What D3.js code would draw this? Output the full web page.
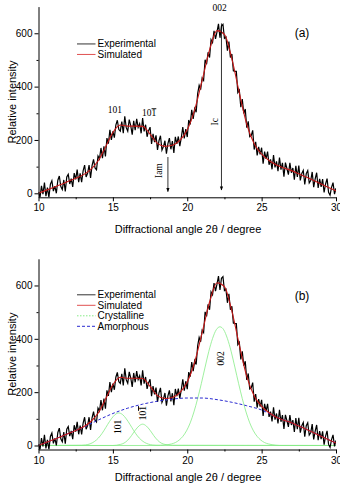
<!DOCTYPE html>
<html>
<head>
<meta charset="utf-8">
<script src="https://cdn.jsdelivr.net/npm/d3@7"></script>
<style>
  body { margin: 0; background: #fff; }
  svg { display: block; font-family: "Liberation Sans", Arial, sans-serif; }
  .axis path, .axis line { stroke: #000; stroke-width: 1; }
  .axis text { font-size: 10px; fill: #000; font-family: "Liberation Sans", Arial, sans-serif; }
  .hkl { font-family: "Liberation Serif", "Times New Roman", serif; font-size: 9.5px; fill: #000; }
</style>
</head>
<body>
<div id="chart"></div>
<script>
// measured pattern, 10..30 degree every 0.1 degree
const expStart = 10, expStep = 0.1;
const experimental = [
  5, -16, 28, -3, 40, -11, 21, -15, 34, 47,
  8, 27, 0, 49, 65, 25, 14, 50, 7, 61,
  71, 35, 55, 24, 76, 52, 89, 42, 75, 42,
  84, 106, 61, 75, 106, 58, 104, 127, 95, 88,
  140, 129, 170, 132, 176, 138, 207, 186, 238, 200,
  232, 209, 256, 274, 239, 233, 269, 225, 289, 246,
  233, 276, 254, 220, 272, 237, 279, 247, 261, 225,
  282, 232, 257, 212, 235, 248, 185, 223, 192, 217,
  163, 197, 216, 162, 175, 197, 149, 186, 207, 165,
  196, 151, 212, 185, 213, 177, 209, 248, 206, 241,
  211, 275, 258, 313, 279, 318, 304, 374, 405, 389,
  432, 423, 501, 484, 529, 509, 576, 565, 609, 579,
  605, 635, 583, 627, 633, 581, 586, 535, 569, 509,
  522, 459, 457, 457, 378, 387, 323, 353, 299, 316,
  246, 270, 212, 216, 236, 164, 193, 142, 174, 146,
  171, 111, 156, 129, 156, 107, 127, 90, 143, 97,
  120, 83, 134, 89, 114, 62, 115, 93, 70, 114,
  77, 95, 51, 103, 61, 104, 48, 74, 86, 33,
  74, 85, 39, 48, 80, 23, 54, 77, 20, 54,
  24, 53, 3, 35, 55, 4, -7, 22, 40, -3,
  19
];

// fitted curve, every 0.5 degree
const simAngles = [10, 10.5, 11, 11.5, 12, 12.5, 13, 13.5, 14, 14.5, 15, 15.5, 16, 16.5, 17, 17.5,
  18, 18.5, 19, 19.5, 20, 20.5, 21, 21.5, 22, 22.5, 23, 23.5, 24, 24.5, 25, 25.5, 26, 26.5, 27,
  27.5, 28, 28.5, 29, 29.5, 30];
const simulated = [0, 11, 22, 33, 45, 56, 69, 89, 121, 173, 228, 256, 252, 252, 251, 222,
  187, 176, 180, 198, 238, 313, 423, 538, 610, 596, 504, 377, 259, 186, 147, 123, 106, 95, 85,
  73, 61, 48, 35, 22, 9];

// amorphous halo
const amorphousAngles = [10, 11, 12, 13, 14, 15, 16, 17, 18, 19, 20, 21, 22, 23, 24, 25, 26, 27, 28, 29, 30];
const amorphous = [0, 22, 45, 68, 95, 120, 140, 155, 166, 174, 178, 178, 172, 162, 149, 133, 106, 85, 61, 35, 9];

// crystalline peaks
const peak101Angles = [10, 12.9, 13.15, 13.4, 13.65, 13.9, 14.15, 14.4, 14.65, 14.9, 15.15, 15.4,
  15.65, 15.9, 16.15, 16.4, 16.65, 16.9, 17.15, 17.4, 17.65, 17.9, 30];
const peak101 = [0, 1, 2, 5, 11, 21, 36, 56, 79, 100, 116, 122, 116, 100, 79, 56, 36, 21, 11, 5, 2, 1, 0];
const peak10m1Angles = [10, 15, 15.25, 15.5, 15.75, 16, 16.25, 16.5, 16.75, 17, 17.25, 17.5, 17.75,
  18, 18.25, 18.5, 18.75, 19, 30];
const peak10m1 = [0, 0, 1, 4, 9, 20, 37, 57, 73, 80, 73, 57, 37, 20, 9, 4, 1, 0, 0];
const peak002Angles = [10, 18.2, 18.45, 18.7, 18.95, 19.2, 19.45, 19.7, 19.95, 20.2, 20.45, 20.7,
  20.95, 21.2, 21.45, 21.7, 21.95, 22.2, 22.45, 22.7, 22.95, 23.2, 23.45, 23.7, 23.95, 24.2, 24.45,
  24.7, 24.95, 25.2, 25.45, 25.7, 25.95, 26.2, 30];
const peak002 = [0, 0, 1, 3, 6, 11, 20, 34, 55, 85, 126, 176, 233, 294, 353, 401, 434, 445, 434,
  401, 353, 294, 233, 176, 126, 85, 55, 34, 20, 11, 6, 3, 1, 0, 0];

// tick values
const xTicks = [10, 15, 20, 25, 30];
const xMinor = [12.5, 17.5, 22.5, 27.5];
const yTicks = [0, 200, 400, 600];
const yMinor = [100, 300, 500];

// annotations
const arrowNames = ["Iam", "Ic"];
const arrowAngles = [18.7, 22.3];
const arrowTop = [136, 637];
const arrowBottom = [6, 12];
const arrowLabelAt = [[18.07, 85], [21.85, 268]];

const labelsA = ["101", "10\u03041", "002"];
const labelsAAngle = [15.13, 17.44, 22.18];
const labelsAValue = [312, 300, 694];
const labelsBAngle = [15.36, 17.03, 22.3];
const labelsBValue = [70, 121, 327];

const svgWidth = 340, svgHeight = 485;
const svg = d3.select("#chart").append("svg")
  .attr("width", svgWidth)
  .attr("height", svgHeight);

const defs = svg.append("defs");
defs.append("marker")
  .attr("id", "arrow")
  .attr("viewBox", "0 0 10 10")
  .attr("refX", 9).attr("refY", 5)
  .attr("markerWidth", 5).attr("markerHeight", 5)
  .attr("orient", "auto")
  .append("path")
  .attr("d", "M0,1L10,5L0,9Z")
  .attr("fill", "#000");

const x = d3.scaleLinear().domain([10, 30]).range([38.5, 336]);
const expPoints = experimental.map((v, i) => [expStart + i * expStep, v]);

function hklText(g, txt, px, py, rotate) {
  const t = g.append("text")
    .attr("class", "hkl")
    .attr("text-anchor", "middle")
    .attr("dominant-baseline", "central")
    .attr("transform", `translate(${px},${py})` + (rotate ? " rotate(-90)" : ""));
  if (txt.indexOf("\u0304") > 0) {
    t.append("tspan").text("10");
    t.append("tspan").style("text-decoration", "overline").text("1");
  } else {
    t.text(txt);
  }
}

function drawPanel(id, bottom, top, opts) {
  const y = d3.scaleLinear().domain([-15, 700]).range([bottom, top]);
  const g = svg.append("g");

  g.append("clipPath").attr("id", "clip" + id)
    .append("rect")
    .attr("x", x(10)).attr("y", top)
    .attr("width", x(30) - x(10)).attr("height", bottom - top);

  const plot = g.append("g").attr("clip-path", `url(#clip${id})`);
  const line = d3.line().x(d => x(d[0])).y(d => y(d[1]));
  const smooth = d3.line().x(d => x(d[0])).y(d => y(d[1])).curve(d3.curveMonotoneX);

  if (opts.components) {
    [[peak101Angles, peak101], [peak10m1Angles, peak10m1], [peak002Angles, peak002]].forEach(p => {
      plot.append("path")
        .datum(p[0].map((a, i) => [a, p[1][i]]))
        .attr("fill", "none")
        .attr("stroke", "#86ec86")
        .attr("stroke-width", 0.8)
        .attr("d", smooth);
    });
  }

  plot.append("path")
    .datum(expPoints)
    .attr("fill", "none")
    .attr("stroke", "#000")
    .attr("stroke-width", 1.2)
    .attr("d", line);

  if (opts.components) {
    plot.append("path")
      .datum(amorphousAngles.map((a, i) => [a, amorphous[i]]))
      .attr("fill", "none")
      .attr("stroke", "#2b2bd0")
      .attr("stroke-width", 1)
      .attr("stroke-dasharray", "3,2")
      .attr("d", smooth);
  }

  plot.append("path")
    .datum(simAngles.map((a, i) => [a, simulated[i]]))
    .attr("fill", "none")
    .attr("stroke", "#c81818")
    .attr("stroke-width", 1.1)
    .attr("d", smooth);

  // axes
  g.append("g").attr("class", "axis")
    .attr("transform", `translate(0,${bottom})`)
    .call(d3.axisBottom(x).tickValues(xTicks).tickSize(4).tickSizeOuter(0).tickPadding(3));
  g.append("g").attr("class", "axis")
    .attr("transform", `translate(0,${bottom})`)
    .call(d3.axisBottom(x).tickValues(xMinor).tickSize(2).tickSizeOuter(0).tickFormat(""))
    .select(".domain").remove();
  g.append("g").attr("class", "axis")
    .attr("transform", `translate(${x(10)},0)`)
    .call(d3.axisLeft(y).tickValues(yTicks).tickSize(4).tickSizeOuter(0).tickPadding(2));
  g.append("g").attr("class", "axis")
    .attr("transform", `translate(${x(10)},0)`)
    .call(d3.axisLeft(y).tickValues(yMinor).tickSize(2).tickSizeOuter(0).tickFormat(""))
    .select(".domain").remove();

  g.append("text")
    .attr("x", 188).attr("y", bottom + opts.titleGap)
    .attr("text-anchor", "middle")
    .attr("font-size", "11px")
    .text("Diffractional angle 2\u03b8 / degree");

  g.append("text")
    .attr("transform", `translate(12,${(top + bottom) / 2}) rotate(-90)`)
    .attr("text-anchor", "middle")
    .attr("dominant-baseline", "central")
    .attr("font-size", "11px")
    .text("Relative intensity");

  g.append("text")
    .attr("x", 302).attr("y", y(opts.tagValue))
    .attr("text-anchor", "middle")
    .attr("dominant-baseline", "central")
    .attr("font-size", "12px")
    .text(opts.tag);

  // legend
  const legend = g.append("g");
  opts.legend.forEach((item, i) => {
    const ly = y(opts.legendValue) + i * 10.5;
    legend.append("line")
      .attr("x1", 77).attr("x2", 95.5).attr("y1", ly).attr("y2", ly)
      .attr("stroke", item.color)
      .attr("stroke-width", 1)
      .attr("stroke-dasharray", item.dash || null);
    legend.append("text")
      .attr("x", 97.5).attr("y", ly)
      .attr("dominant-baseline", "central")
      .attr("font-size", "10px")
      .text(item.name);
  });

  return y;
}

// panel (a)
const yA = drawPanel("a", 197.3, 6.6, {
  tag: "(a)", tagValue: 600, titleGap: 35.5,
  legendValue: 560,
  legend: [{name: "Experimental", color: "#333"}, {name: "Simulated", color: "#e05050"}]
});

arrowNames.forEach((n, i) => {
  svg.append("line")
    .attr("x1", x(arrowAngles[i])).attr("x2", x(arrowAngles[i]))
    .attr("y1", yA(arrowTop[i])).attr("y2", yA(arrowBottom[i]))
    .attr("stroke", "#000")
    .attr("stroke-width", 0.8)
    .attr("marker-end", "url(#arrow)");
  svg.append("text")
    .attr("class", "hkl")
    .attr("text-anchor", "middle")
    .attr("dominant-baseline", "central")
    .attr("transform", `translate(${x(arrowLabelAt[i][0])},${yA(arrowLabelAt[i][1])}) rotate(-90)`)
    .text(n);
});

labelsA.forEach((t, i) => {
  hklText(svg, t, x(labelsAAngle[i]), yA(labelsAValue[i]), false);
});

// panel (b)
const yB = drawPanel("b", 449.5, 258.8, {
  tag: "(b)", tagValue: 560, titleGap: 31,
  components: true,
  legendValue: 565,
  legend: [
    {name: "Experimental", color: "#333"},
    {name: "Simulated", color: "#e05050"},
    {name: "Crystalline", color: "#86ec86", dash: "1.5,1.5"},
    {name: "Amorphous", color: "#2b2bd0", dash: "3,2"}
  ]
});

labelsA.forEach((t, i) => {
  hklText(svg, t, x(labelsBAngle[i]), yB(labelsBValue[i]), true);
});
</script>
</body>
</html>
